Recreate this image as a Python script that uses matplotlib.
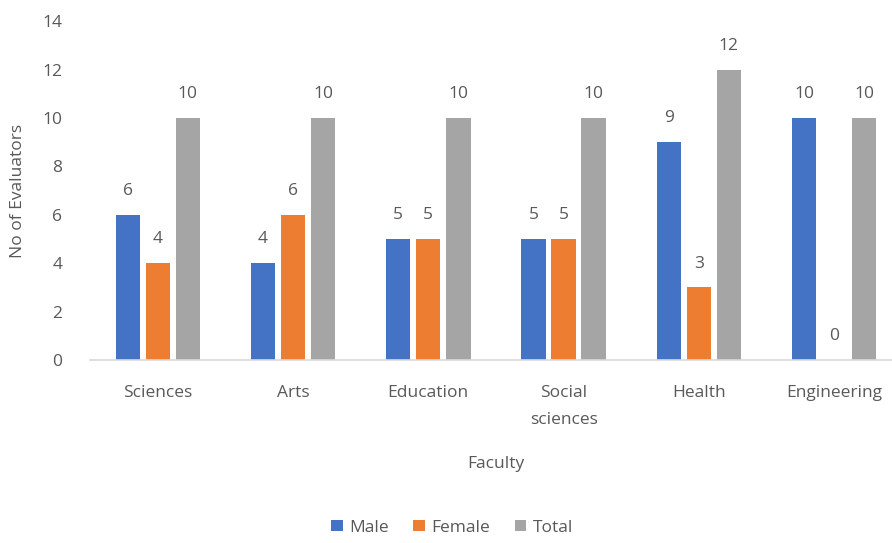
import numpy as np
import matplotlib.pyplot as plt

faculties = ["Sciences", "Arts", "Education", "Social\nsciences", "Health", "Engineering"]
male = [6, 4, 5, 5, 9, 10]
female = [4, 6, 5, 5, 3, 0]
total = [10, 10, 10, 10, 12, 10]

series = [("Male", male, "#4472C4"), ("Female", female, "#ED7D31"), ("Total", total, "#A5A5A5")]
text_color = "#595959"

plt.rcParams["font.family"] = ["Open Sans", "DejaVu Sans"]

fig = plt.figure(figsize=(8.92, 5.43), dpi=100)
ax = fig.add_axes([0.101, 0.337, 0.910, 0.624])

x = np.arange(len(faculties))
width = 0.18
step = 0.222
for i, (name, vals, color) in enumerate(series):
    pos = x + (i - 1) * step
    bars = ax.bar(pos, vals, width, color=color, label=name)
    for b, v in zip(bars, vals):
        ax.text(b.get_x() + b.get_width() / 2, v + 0.65, str(v),
                ha="center", va="bottom", fontsize=12.5, color=text_color)

ax.set_xlim(-0.5, len(faculties) - 0.5)
ax.set_ylim(0, 14)
ax.set_yticks(range(0, 15, 2))
ax.set_xticks(x)
ax.set_xticklabels(faculties, linespacing=1.9, va="top")
ax.tick_params(axis="both", length=0, colors=text_color, labelsize=12.5)
ax.tick_params(axis="x", pad=18)
ax.tick_params(axis="y", pad=20)

for s in ["top", "right", "left"]:
    ax.spines[s].set_visible(False)
ax.spines["bottom"].set_color("#D9D9D9")
ax.spines["bottom"].set_linewidth(1.2)

ax.set_ylabel("No of Evaluators", fontsize=12.5, color=text_color, labelpad=12)
ax.set_xlabel("Faculty", fontsize=12.5, color=text_color, labelpad=20)

fig.legend(loc="lower center", bbox_to_anchor=(0.507, -0.015), ncol=3, frameon=False,
           fontsize=12.5, labelcolor=text_color, handlelength=0.65, handleheight=0.65,
           handletextpad=0.4, columnspacing=1.4)

fig.savefig("out.png", dpi=100)
